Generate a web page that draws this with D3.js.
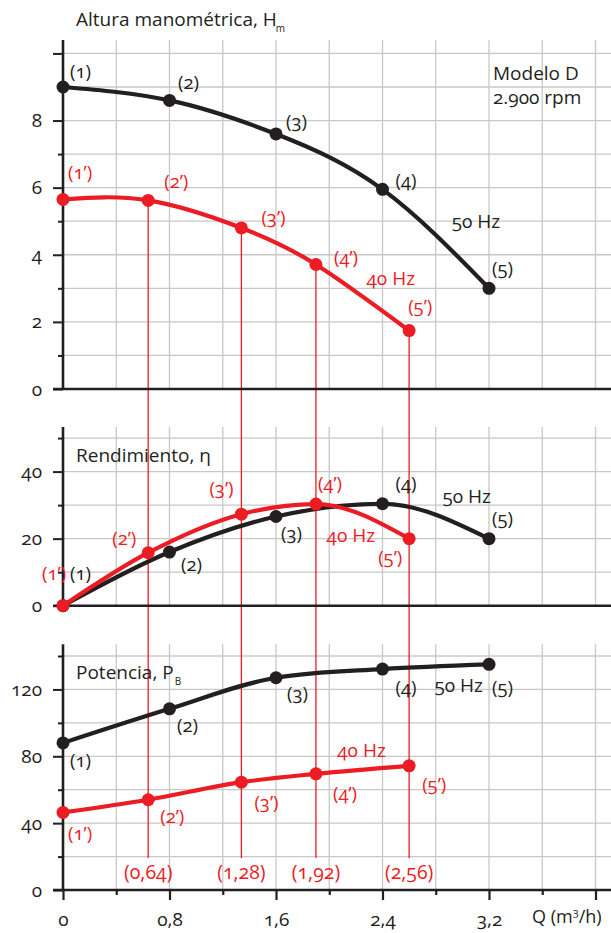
<!DOCTYPE html>
<html>
<head>
<meta charset="utf-8">
<script src="https://cdn.jsdelivr.net/npm/d3@7"></script>
<style>
  body { margin: 0; background: #fff; }
  svg text { font-family: "Open Sans", sans-serif; font-variant-numeric: oldstyle-nums; font-feature-settings: "onum" 1; }
</style>
</head>
<body>
<svg id="chart" width="611" height="933"></svg>
<script>
// flow rates (m3/h)
var q50 = [0, 0.8, 1.6, 2.4, 3.2];
var q40 = [0, 0.64, 1.34, 1.90, 2.60];
// head H (m)
var h50 = [9.0, 8.6, 7.6, 5.95, 3.0];
var h40 = [5.65, 5.62, 4.80, 3.71, 1.74];
// efficiency (%)
var eta50 = [0, 16.0, 26.6, 30.4, 20.0];
var eta40 = [0, 15.8, 27.3, 30.3, 20.0];
// power P_B (W)
var p50 = [88, 108.4, 127, 132.2, 135];
var p40 = [46.4, 54, 64.5, 69.5, 74.3];

var pts50 = ["(1)", "(2)", "(3)", "(4)", "(5)"];
var pts40 = ["(1’)", "(2’)", "(3’)", "(4’)", "(5’)"];
var qTicks = [0, 0.8, 1.6, 2.4, 3.2];
var qTickLabels = ["0", "0,8", "1,6", "2,4", "3,2"];
var q40Labels = ["(0,64)", "(1,28)", "(1,92)", "(2,56)"];

var BLACK = "#231f20", RED = "#ec1c24", GRID = "#c8c8c8";
var LABEL_FS = 18.5, TICK_FS = 19, TITLE_FS = 19;

var svg = d3.select("#chart"),
    width = +svg.attr("width");

var x = d3.scaleLinear().domain([0, 4]).range([63, 595.5]);

var panels = [
  { top: 40, bottom: 389, max: 10.4, step: 1, labeled: [0, 2, 4, 6, 8], longs: [0, 2, 4, 6, 8, 10],
    s50: h50, s40: h40, curve: d3.curveNatural,
    off50: [[7, -9], [8.5, -11], [10, -6], [13, -2], [3, -13]],
    off40: [[5, -20], [16, -12], [20, -4], [18, -1], [-1, -18]],
    hz50: [2.92, 4.8], hz40: [2.28, 3.1] },
  { top: 427, bottom: 605.7, max: 53.3, step: 10, labeled: [0, 20, 40], longs: [0, 20, 40],
    s50: eta50, s40: eta40, curve: d3.curveMonotoneX,
    off50: [[7, -26], [11.5, 19], [5, 23], [13, -14], [3, -14]],
    off40: [[-21, -26], [-36, -8], [-32, -19], [2, -14], [-31, 25]],
    hz50: [2.85, 30.6], hz40: [1.98, 19] },
  { top: 644.3, bottom: 890, max: 147, step: 20, labeled: [0, 40, 80, 120], longs: [0, 40, 80, 120],
    s50: p50, s40: p40, curve: d3.curveMonotoneX,
    off50: [[7, 24], [7.5, 23], [11, 22], [13, 25], [3, 30]],
    off40: [[5, 28], [12, 23], [13, 27], [17, 26], [13, 25]],
    hz50: [2.79, 118.5], hz40: [2.06, 79.6] }
];

panels.forEach(function(p) {
  p.y = d3.scaleLinear().domain([0, p.max]).range([p.bottom, p.top]);
});

var gridG = svg.append("g");
var redG = svg.append("g");
var axisG = svg.append("g");
var curveG = svg.append("g");
var textG = svg.append("g");

var qGrid = d3.range(0.4, 4.01, 0.4);

panels.forEach(function(p) {
  var yTicks = d3.range(p.step, p.max, p.step);
  // horizontal grid
  gridG.selectAll(null).data(yTicks).enter().append("line")
    .attr("x1", x(0)).attr("x2", width)
    .attr("y1", function(d) { return p.y(d); }).attr("y2", function(d) { return p.y(d); })
    .attr("stroke", GRID).attr("stroke-width", 1.3);
  // vertical grid
  gridG.selectAll(null).data(qGrid).enter().append("line")
    .attr("x1", function(d) { return x(d); }).attr("x2", function(d) { return x(d); })
    .attr("y1", p.top).attr("y2", p.bottom)
    .attr("stroke", GRID).attr("stroke-width", 1.3);

  // y axis
  var ya = axisG.append("g").attr("transform", "translate(" + x(0) + ",0)")
    .call(d3.axisLeft(p.y)
      .tickValues(d3.range(0, p.max, p.step))
      .tickSize(10).tickPadding(11)
      .tickFormat(function(d) { return p.labeled.indexOf(d) >= 0 ? d : ""; }));
  ya.select(".domain").remove();
  ya.selectAll(".tick line").attr("stroke", BLACK).attr("stroke-width", 2)
    .attr("x2", function(d) { return p.longs.indexOf(d) >= 0 ? -10 : -5; });
  ya.selectAll(".tick text").attr("fill", BLACK).attr("font-size", TICK_FS)
    .attr("font-family", "Open Sans, sans-serif");
  axisG.append("line").attr("x1", x(0)).attr("x2", x(0))
    .attr("y1", p.top).attr("y2", p.bottom + 1)
    .attr("stroke", BLACK).attr("stroke-width", 2.6);
  axisG.append("line").attr("x1", 53).attr("x2", width)
    .attr("y1", p.bottom).attr("y2", p.bottom)
    .attr("stroke", BLACK).attr("stroke-width", 2.6);
});

// bottom x axis ticks & labels
var bottomP = panels[2];
var xa = axisG.append("g").attr("transform", "translate(0," + bottomP.bottom + ")")
  .call(d3.axisBottom(x)
    .tickValues(d3.range(0, 4.01, 0.4))
    .tickSize(10).tickPadding(13)
    .tickFormat(function(d) {
      var i = qTicks.findIndex(function(t) { return Math.abs(t - d) < 1e-6; });
      return i >= 0 ? qTickLabels[i] : "";
    }));
xa.select(".domain").remove();
xa.selectAll(".tick line").attr("stroke", BLACK).attr("stroke-width", 2.2)
  .attr("y2", function(d) { return Math.abs(Math.round(d / 0.8) * 0.8 - d) < 1e-6 ? 10 : 5; });
xa.selectAll(".tick text").attr("fill", BLACK).attr("font-size", TICK_FS)
  .attr("font-family", "Open Sans, sans-serif");
var qt = textG.append("text").attr("x", 532).attr("y", 923)
  .attr("font-size", 18).attr("fill", BLACK);
qt.append("tspan").text("Q (m");
qt.append("tspan").text("3").attr("font-size", 11).attr("dy", -7);
qt.append("tspan").text("/h)").attr("dy", 7);

// red drop lines from the 40 Hz head points
var topP = panels[0];
redG.selectAll(null).data(q40.slice(1)).enter().append("line")
  .attr("x1", function(d) { return x(d); }).attr("x2", function(d) { return x(d); })
  .attr("y1", function(d, i) { return topP.y(h40[i + 1]); }).attr("y2", 858)
  .attr("stroke", RED).attr("stroke-width", 1.3);
textG.selectAll(null).data(q40.slice(1)).enter().append("text")
  .attr("x", function(d) { return x(d); }).attr("y", 879)
  .attr("text-anchor", "middle").attr("font-size", 19.5).attr("fill", RED)
  .text(function(d, i) { return q40Labels[i]; });

// curves
panels.forEach(function(p) {
  var line = d3.line()
    .x(function(d) { return x(d[0]); })
    .y(function(d) { return p.y(d[1]); })
    .curve(p.curve);
  [[q50, p.s50, BLACK, pts50, p.off50], [q40, p.s40, RED, pts40, p.off40]].forEach(function(s) {
    var data = s[0].map(function(q, i) { return [q, s[1][i]]; });
    curveG.append("path").datum(data).attr("d", line)
      .attr("fill", "none").attr("stroke", s[2]).attr("stroke-width", 4.2)
      .attr("stroke-linejoin", "round");
    curveG.selectAll(null).data(data).enter().append("circle")
      .attr("cx", function(d) { return x(d[0]); })
      .attr("cy", function(d) { return p.y(d[1]); })
      .attr("r", 6.5).attr("fill", s[2]);
    textG.selectAll(null).data(data).enter().append("text")
      .attr("x", function(d, i) { return x(d[0]) + s[4][i][0]; })
      .attr("y", function(d, i) { return p.y(d[1]) + s[4][i][1]; })
      .attr("font-size", LABEL_FS).attr("fill", s[2])
      .text(function(d, i) { return s[3][i]; });
  });
  textG.append("text").attr("x", x(p.hz50[0])).attr("y", p.y(p.hz50[1]))
    .attr("font-size", 19).attr("fill", BLACK).text("50 Hz");
  textG.append("text").attr("x", x(p.hz40[0])).attr("y", p.y(p.hz40[1]))
    .attr("font-size", 19).attr("fill", RED).text("40 Hz");
});

// titles
var t1 = textG.append("text").attr("x", 76).attr("y", 26).attr("font-size", TITLE_FS).attr("fill", BLACK);
t1.append("tspan").text("Altura manométrica, H");
t1.append("tspan").text("m").attr("font-size", 10).attr("dx", -1).attr("dy", 6);

textG.append("text").attr("x", 76).attr("y", 462).attr("font-size", TITLE_FS).attr("fill", BLACK)
  .text("Rendimiento, η");

var t3 = textG.append("text").attr("x", 76).attr("y", 679).attr("font-size", TITLE_FS).attr("fill", BLACK);
t3.append("tspan").text("Potencia, P");
t3.append("tspan").text("B").attr("font-size", 10).attr("dx", 1).attr("dy", 6);

textG.append("text").attr("x", 493).attr("y", 80).attr("font-size", TITLE_FS).attr("fill", BLACK).text("Modelo D");
textG.append("text").attr("x", 493).attr("y", 104).attr("font-size", TITLE_FS).attr("fill", BLACK).text("2.900 rpm");
</script>
</body>
</html>
